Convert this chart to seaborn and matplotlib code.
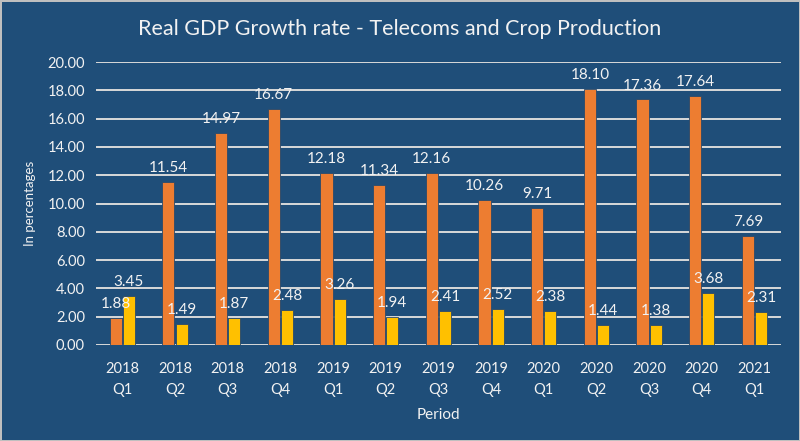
import numpy as np
import pandas as pd
import matplotlib
matplotlib.use("Agg")
import matplotlib.pyplot as plt
import seaborn as sns

# Data
periods = ["2018\nQ1", "2018\nQ2", "2018\nQ3", "2018\nQ4",
           "2019\nQ1", "2019\nQ2", "2019\nQ3", "2019\nQ4",
           "2020\nQ1", "2020\nQ2", "2020\nQ3", "2020\nQ4",
           "2021\nQ1"]
telecoms = [1.88, 11.54, 14.97, 16.67, 12.18, 11.34, 12.16, 10.26,
            9.71, 18.10, 17.36, 17.64, 7.69]
crop = [3.45, 1.49, 1.87, 2.48, 3.26, 1.94, 2.41, 2.52,
        2.38, 1.44, 1.38, 3.68, 2.31]
series_names = ["Telecoms", "Crop Production"]

df = pd.DataFrame({
    "Period": periods * 2,
    "Value": telecoms + crop,
    "Series": [series_names[0]] * len(periods) + [series_names[1]] * len(periods),
})

bg = "#1F4E79"
txt = "#F2F2F2"
colors = ["#ED7D31", "#FFC000"]

sns.set_style("white")
plt.rcParams["font.family"] = ["Lato", "DejaVu Sans"]

fig = plt.figure(figsize=(8, 4.41), dpi=100)
fig.patch.set_facecolor(bg)
fig.patch.set_edgecolor("#BFBFBF")
fig.patch.set_linewidth(2)
ax = fig.add_axes([0.12, 0.218, 0.856, 0.641])
ax.set_facecolor(bg)

sns.barplot(data=df, x="Period", y="Value", hue="Series", order=periods,
            palette=colors, width=0.5, gap=0.08, ax=ax, legend=False,
            saturation=1, edgecolor="#2A4A6B", linewidth=0.6)

for cont in ax.containers:
    ax.bar_label(cont, labels=[f"{v:.2f}" for v in cont.datavalues],
                 color=txt, fontsize=11, padding=5)

ax.set_ylim(0, 20)
ax.set_yticks(np.arange(0, 21, 2))
ax.set_yticklabels([f"{v:.2f}" for v in np.arange(0, 21, 2)], color=txt, fontsize=10.5)
ax.tick_params(axis="x", colors=txt, labelsize=10.5, length=0, pad=12)
for lbl in ax.get_xticklabels():
    lbl.set_linespacing(1.7)
ax.tick_params(axis="y", length=0, pad=8)
ax.set_xlim(-0.5, len(periods) - 0.5)
ax.yaxis.grid(True, color="#D9D9D9", linewidth=1.4)
ax.set_axisbelow(True)
for s in ax.spines.values():
    s.set_visible(False)

ax.set_xlabel("Period", color=txt, fontsize=11, labelpad=8)
ax.set_ylabel("In percentages", color=txt, fontsize=9.5, labelpad=8)
fig.text(0.5, 0.935, "Real GDP Growth rate - Telecoms and Crop Production",
         ha="center", va="center", color=txt, fontsize=15.5)

fig.savefig("out.png", dpi=100, facecolor=bg, edgecolor=fig.patch.get_edgecolor())
